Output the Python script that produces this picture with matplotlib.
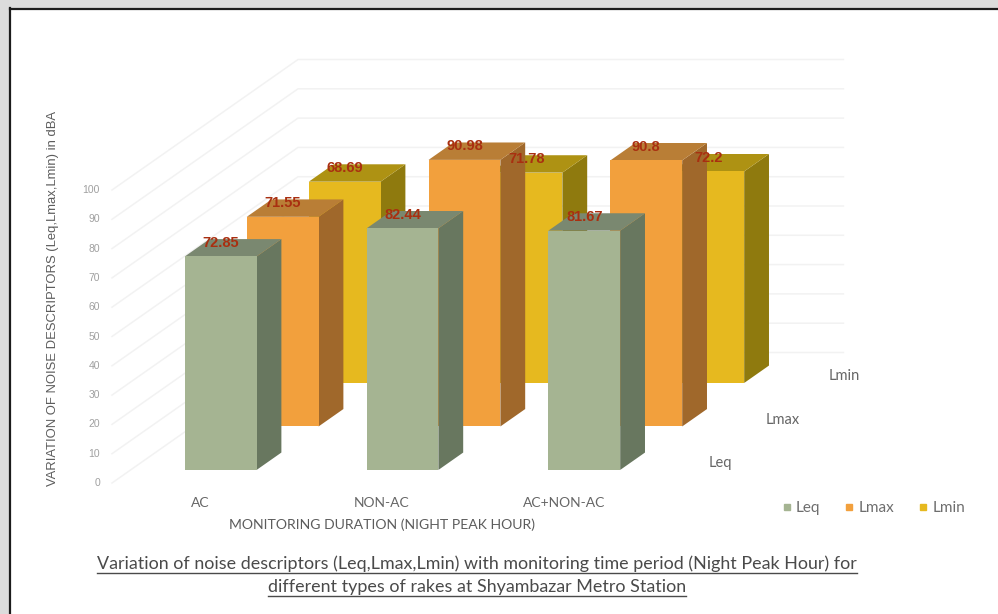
import matplotlib
matplotlib.use("Agg")
import matplotlib.pyplot as plt
from matplotlib.patches import Polygon, Rectangle
from matplotlib.lines import Line2D

categories = ["AC", "NON-AC", "AC+NON-AC"]
series = ["Leq", "Lmax", "Lmin"]
leq = [72.85, 82.44, 81.67]
lmax = [71.55, 90.98, 90.8]
lmin = [68.69, 71.78, 72.2]
ticks = [0, 10, 20, 30, 40, 50, 60, 70, 80, 90, 100]

front_colors = ["#a5b492", "#f2a03d", "#e6b91f"]
side_colors = ["#68775f", "#a0682b", "#8f7a0e"]
top_colors = ["#7a8870", "#b97e36", "#ae9213"]

# oblique projection: x is category, d is depth in series cells, v is dBA
X0, Y0 = 112, 483
CAT_W = 181.8
DX, DY = 62, 43.5
V_SCALE = 2.93
BAR_W = 0.395
BAR_MARGIN = 0.298
BAR_D = 0.4
D_MARGIN = 0.3


def proj(x, d, v):
    return X0 + x * CAT_W + d * DX, Y0 - d * DY - v * V_SCALE


fig = plt.figure(figsize=(9.98, 6.14), dpi=100)
fig.patch.set_facecolor("white")
ax = fig.add_axes([0, 0, 1, 1])
ax.set_xlim(0, 998)
ax.set_ylim(614, 0)
ax.axis("off")

# grey surround with the dark frame on the top and left
ax.add_patch(Rectangle((0, 0), 998, 7.5, fc="#dcdcdc", ec="none"))
ax.add_patch(Rectangle((0, 0), 9.5, 614, fc="#dcdcdc", ec="none"))
ax.plot([10, 998], [8.5, 8.5], color="#1c1c1c", lw=1.6)
ax.plot([10, 10], [8, 614], color="#1c1c1c", lw=1.6)

# wall and floor gridlines
n_cat = len(categories)
n_ser = len(series)
for t in ticks:
    xa, ya = proj(0, 0, t)
    xb, yb = proj(0, n_ser, t)
    xc, yc = proj(n_cat, n_ser, t)
    ax.plot([xa, xb, xc], [ya, yb, yc], color="#f2f2f2", lw=1.1, zorder=1)
    ax.text(100, ya, str(t), ha="right", va="center", fontsize=7.5,
            color="#a0a0a0", family="Liberation Sans")


def draw_bar(i, s, v):
    d0 = s + D_MARGIN
    d1 = d0 + BAR_D
    x0 = i + BAR_MARGIN
    x1 = x0 + BAR_W
    front = [proj(x0, d0, 0), proj(x1, d0, 0), proj(x1, d0, v), proj(x0, d0, v)]
    side = [proj(x1, d0, 0), proj(x1, d1, 0), proj(x1, d1, v), proj(x1, d0, v)]
    top = [proj(x0, d0, v), proj(x1, d0, v), proj(x1, d1, v), proj(x0, d1, v)]
    z = 10 + (n_ser - s) * 10 + i
    ax.add_patch(Polygon(side, fc=side_colors[s], ec="none", zorder=z))
    ax.add_patch(Polygon(top, fc=top_colors[s], ec="none", zorder=z))
    ax.add_patch(Polygon(front, fc=front_colors[s], ec="none", zorder=z))


values = [leq, lmax, lmin]
for s in range(n_ser - 1, -1, -1):
    for i in range(n_cat):
        draw_bar(i, s, values[s][i])

# value labels sit on the back edge of each top face
for s in range(n_ser):
    for i in range(n_cat):
        v = values[s][i]
        x = proj(i + BAR_MARGIN + BAR_W / 2, s + D_MARGIN, v)[0]
        y = proj(i, s + D_MARGIN + BAR_D, v)[1] + 4
        ax.text(x, y, f"{v:g}", ha="center", va="center", fontsize=10.5,
                fontweight="bold", color="#a92f10", family="Liberation Sans", zorder=100)

# category labels under the front edge
for i, c in enumerate(categories):
    ax.text(proj(i + BAR_MARGIN + BAR_W / 2 - 0.01, 0, 0)[0], 503, c, ha="center", va="center",
            fontsize=10, color="#666666", family="Lato")

# series labels along the depth axis
for s, name in enumerate(series):
    x = proj(n_cat, s + 0.5, 0)[0] + 32
    y = proj(0, s + 0.5, 0)[1] + 2
    ax.text(x, y, name, ha="center", va="center", fontsize=10.5,
            color="#666666", family="Lato")

ax.text(53, 298, "VARIATION OF NOISE DESCRIPTORS (Leq,Lmax,Lmin) in dBA", rotation=90,
        ha="center", va="center", fontsize=9.4, color="#5c5c5c", family="Liberation Sans")
ax.text(382, 525, "MONITORING DURATION (NIGHT PEAK HOUR)", ha="center", va="center",
        fontsize=10.1, color="#5c5c5c", family="Lato")

handles = [Line2D([], [], ls="none", marker="s", ms=5, color=front_colors[k]) for k in range(n_ser)]
ax.legend(handles, series, ncol=3, frameon=False, loc="center", bbox_to_anchor=(872, 508),
          bbox_transform=ax.transData, prop={"family": "Lato", "size": 11}, labelcolor="#6e6e6e",
          handletextpad=0.1, columnspacing=1.4, handlelength=1.0)

# title, underlined by hand from the measured text width
title_lines = ["Variation of noise descriptors (Leq,Lmax,Lmin) with monitoring time period (Night Peak Hour) for",
               "different types of rakes at Shyambazar Metro Station"]
title_y = [564, 587]
fig.canvas.draw()
r = fig.canvas.get_renderer()
for line, y in zip(title_lines, title_y):
    t = ax.text(477, y, line, ha="center", va="center", fontsize=12.9, color="#4a4a4a",
                family="Lato")
    bb = t.get_window_extent(r)
    ax.plot([bb.x0, bb.x1], [y + 9, y + 9], color="#4a4a4a", lw=1.0)

fig.savefig("out.png", dpi=100)
